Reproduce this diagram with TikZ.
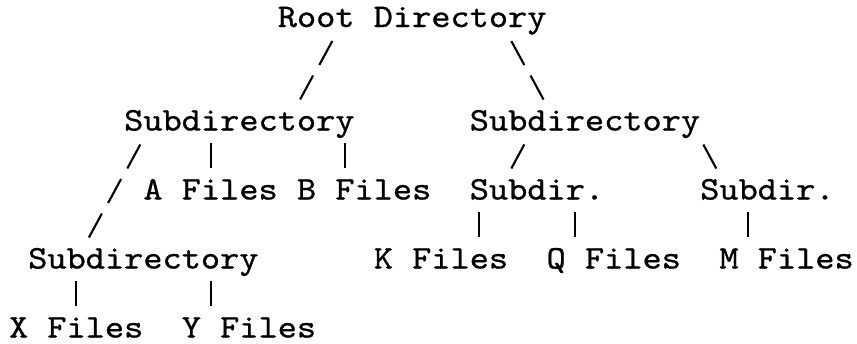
\documentclass[tikz,border=0pt]{standalone}
\usepackage{fontspec}
\setmonofont{lmmono10-regular.otf}[FakeStretch=1.108,FakeBold=0.8]
\newcommand\colX[1]{9+19.2*#1}
\newcommand\rowB[1]{27+34.5*(#1-1)}
\tikzset{
  lbl/.style={anchor=base west, inner sep=0pt, outer sep=0pt, text depth=0pt,
    font=\ttfamily\fontsize{33}{34.5}\selectfont, text=black},
  tick/.style={line width=2.1pt, line cap=butt, draw=black}
}
% forward slash, backslash, bar at column #1, row #2
\newcommand\fsl[2]{\draw[tick] ({\colX{#1}+9.6-6.5},{\rowB{#2}+3.5}) -- ({\colX{#1}+9.6+6.5},{\rowB{#2}-20.5});}
\newcommand\bsl[2]{\draw[tick] ({\colX{#1}+9.6+6.5},{\rowB{#2}+3.5}) -- ({\colX{#1}+9.6-6.5},{\rowB{#2}-20.5});}
\newcommand\vbar[2]{\draw[tick] ({\colX{#1}+9.6},{\rowB{#2}+3}) -- ({\colX{#1}+9.6},{\rowB{#2}-22});}
\begin{document}
\begin{tikzpicture}[x=1pt,y=-1pt]
\fill[white] (0,0) rectangle (857,343);
\useasboundingbox (0,0) rectangle (857,343);
% labels
\node[lbl] (root) at ({\colX{14}},{\rowB{1}}) {Root Directory};
\node[lbl] (sdA) at ({\colX{6}},{\rowB{4}}) {Subdirectory};
\node[lbl] (sdB) at ({\colX{24}},{\rowB{4}}) {Subdirectory};
\node[lbl] (afiles) at ({\colX{7}},{\rowB{6}}) {A Files};
\node[lbl] (bfiles) at ({\colX{15}},{\rowB{6}}) {B Files};
\node[lbl] (sdK) at ({\colX{24}},{\rowB{6}}) {Subdir.};
\node[lbl] (sdM) at ({\colX{36}},{\rowB{6}}) {Subdir.};
\node[lbl] (sdX) at ({\colX{1}},{\rowB{8}}) {Subdirectory};
\node[lbl] (kfiles) at ({\colX{19}},{\rowB{8}}) {K Files};
\node[lbl] (qfiles) at ({\colX{28}},{\rowB{8}}) {Q Files};
\node[lbl] (mfiles) at ({\colX{37}},{\rowB{8}}) {M Files};
\node[lbl] (xfiles) at ({\colX{0}},{\rowB{10}}) {X Files};
\node[lbl] (yfiles) at ({\colX{9}},{\rowB{10}}) {Y Files};
% connector marks
\fsl{16}{2} \bsl{26}{2}
\fsl{15}{3} \bsl{27}{3}
\fsl{6}{5} \vbar{10}{5} \vbar{17}{5} \fsl{26}{5} \bsl{36}{5}
\fsl{5}{6}
\fsl{4}{7} \vbar{24}{7} \vbar{29}{7} \vbar{38}{7}
\vbar{3}{9} \vbar{10}{9}
\end{tikzpicture}
\end{document}
